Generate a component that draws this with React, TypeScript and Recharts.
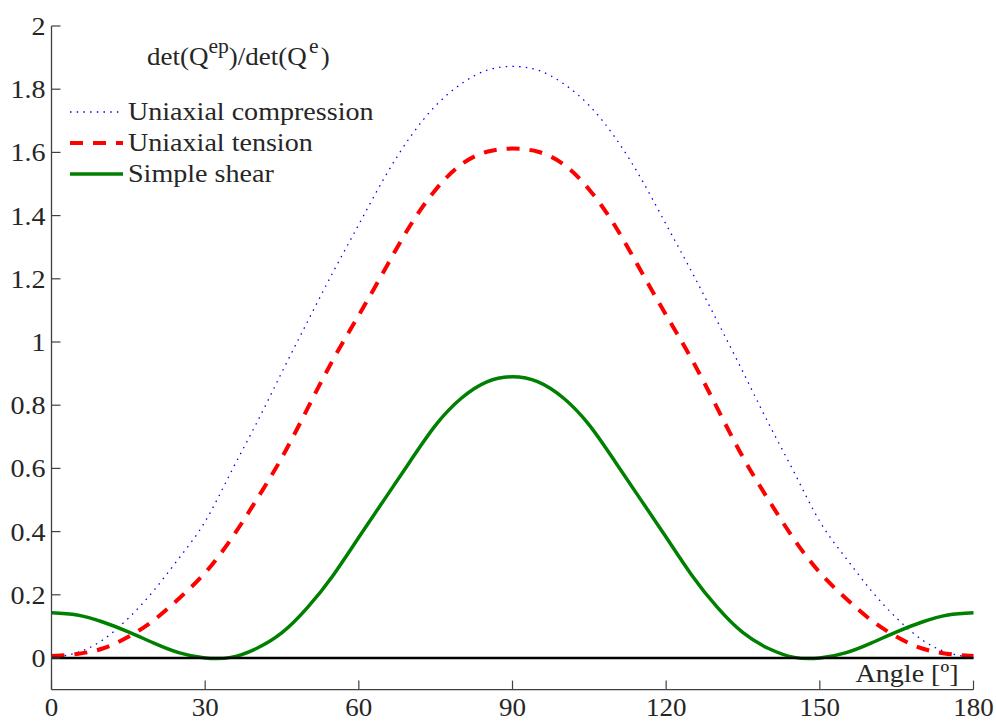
import React from 'react';
import { LineChart, Line, XAxis, YAxis, ReferenceLine, Legend } from 'recharts';

const angles = [
  0, 5, 10, 15, 20, 25, 30, 35, 40, 45, 50, 55, 60, 65, 70, 75, 80, 85, 90,
  95, 100, 105, 110, 115, 120, 125, 130, 135, 140, 145, 150, 155, 160, 165, 170, 175, 180,
];

const compression = [
  0.0, 0.017, 0.057, 0.126, 0.214, 0.318, 0.432, 0.587, 0.742, 0.905, 1.065, 1.222, 1.372, 1.52, 1.648, 1.748, 1.817, 1.86, 1.872,
  1.86, 1.817, 1.748, 1.648, 1.52, 1.372, 1.222, 1.065, 0.905, 0.742, 0.587, 0.432, 0.318, 0.214, 0.126, 0.057, 0.017, 0.0,
];

const tension = [
  0.006, 0.013, 0.03, 0.067, 0.12, 0.19, 0.27, 0.375, 0.5, 0.635, 0.79, 0.945, 1.085, 1.227, 1.368, 1.482, 1.562, 1.602, 1.612,
  1.602, 1.562, 1.482, 1.368, 1.227, 1.085, 0.945, 0.79, 0.635, 0.5, 0.375, 0.27, 0.19, 0.12, 0.067, 0.03, 0.013, 0.006,
];

const shear = [
  0.143, 0.136, 0.114, 0.083, 0.047, 0.016, 0.0, 0.002, 0.03, 0.08, 0.16, 0.262, 0.382, 0.502, 0.622, 0.737, 0.822, 0.874, 0.89,
  0.874, 0.822, 0.737, 0.622, 0.502, 0.382, 0.262, 0.16, 0.08, 0.03, 0.002, 0.0, 0.016, 0.047, 0.083, 0.114, 0.136, 0.143,
];

const xTicks = [0, 30, 60, 90, 120, 150, 180];
const yTicks = [0, 0.2, 0.4, 0.6, 0.8, 1, 1.2, 1.4, 1.6, 1.8, 2];

const data = angles.map((a, i) => ({
  angle: a,
  compression: compression[i],
  tension: tension[i],
  shear: shear[i],
}));

const FONT = '"Liberation Serif", "Times New Roman", serif';
const TEXT = '#262626';
const AXIS = '#404040';
const SX = 1.08;

const seriesList = [
  { key: 'compression', name: 'Uniaxial compression', color: '#0000ff', width: 1.3, dash: '1.5 5.2' },
  { key: 'tension', name: 'Uniaxial tension', color: '#ff0000', width: 4, dash: '13 10' },
  { key: 'shear', name: 'Simple shear', color: '#008000', width: 3.5, dash: undefined as string | undefined },
];

const XTick = (props: any) => {
  const { x, y, payload } = props;
  return (
    <g>
      <line x1={x} x2={x} y1={y} y2={y - 9} stroke={AXIS} strokeWidth={1.2} />
      <text
        transform={`translate(${x},${y + 26.5}) scale(${SX},1)`}
        textAnchor="middle"
        fontFamily={FONT}
        fontSize={25}
        fill={TEXT}
      >
        {payload.value}
      </text>
    </g>
  );
};

const YTick = (props: any) => {
  const { x, y, payload } = props;
  return (
    <g>
      <line x1={x} x2={x + 9} y1={y} y2={y} stroke={AXIS} strokeWidth={1.2} />
      <text
        transform={`translate(${x - 6},${y + 9}) scale(${SX},1)`}
        textAnchor="end"
        fontFamily={FONT}
        fontSize={26}
        fill={TEXT}
      >
        {String(payload.value)}
      </text>
    </g>
  );
};

const TitleLabel = (p: any) => {
  const vb = p.viewBox || { x: 0, y: 26, width: 51.5, height: 663 };
  const x = vb.x + vb.width + 95.5;
  const y = vb.y + 39;
  return (
    <text transform={`translate(${x},${y}) scale(${SX},1)`} fontFamily={FONT} fontSize={25} fill={TEXT}>
      det(Q
      <tspan dy={-12} fontSize={20}>ep</tspan>
      <tspan dy={12}>)/det(Q</tspan>
      <tspan dy={-12} fontSize={20} dx={2}>e</tspan>
      <tspan dy={12} dx={2}>)</tspan>
    </text>
  );
};

const AngleLabel = (p: any) => {
  const vb = p.viewBox || { x: 51.5, y: 689.6, width: 922, height: 32 };
  const x = vb.x + vb.width - 15;
  const y = vb.y - 8;
  return (
    <text transform={`translate(${x},${y}) scale(${SX},1)`} textAnchor="end" fontFamily={FONT} fontSize={26} fill={TEXT}>
      Angle [º]
    </text>
  );
};

const LegendBox = () => (
  <svg width={400} height={200} style={{ display: 'block' }}>
    {seriesList.map((s, i) => {
      const cy = 112 + i * 31;
      return (
        <g key={s.key}>
          <line x1={70} x2={123} y1={cy} y2={cy} stroke={s.color} strokeWidth={s.width} strokeDasharray={s.dash} />
          <text transform={`translate(128,${cy + 8}) scale(${SX},1)`} fontFamily={FONT} fontSize={26} fill={TEXT}>
            {s.name}
          </text>
        </g>
      );
    })}
  </svg>
);

export default function App() {
  return (
    <div style={{ position: 'absolute', left: 0, top: 0, width: 996, height: 722, background: '#fff' }}>
      <LineChart width={996} height={722} data={data} margin={{ top: 26, right: 22.5, bottom: 0, left: 0 }}>
        <XAxis
          dataKey="angle"
          type="number"
          domain={[0, 180]}
          ticks={xTicks}
          interval={0}
          height={32.4}
          tickSize={0}
          tickMargin={0}
          tickLine={false}
          axisLine={{ stroke: AXIS, strokeWidth: 1.3 }}
          tick={<XTick />}
          label={{ content: AngleLabel }}
        />
        <YAxis
          type="number"
          domain={[-0.1, 2]}
          ticks={yTicks}
          interval={0}
          width={51.5}
          tickSize={0}
          tickMargin={0}
          tickLine={false}
          axisLine={{ stroke: AXIS, strokeWidth: 1.3 }}
          tick={<YTick />}
          allowDataOverflow
          label={{ content: TitleLabel }}
        />
        <Legend
          layout="vertical"
          align="center"
          verticalAlign="middle"
          wrapperStyle={{ left: 0, top: 0, width: 400, height: 200 }}
          content={() => <LegendBox />}
        />
        {seriesList.map((s) => (
          <Line
            key={s.key}
            type="natural"
            dataKey={s.key}
            name={s.name}
            stroke={s.color}
            strokeWidth={s.width}
            strokeDasharray={s.dash}
            dot={false}
            activeDot={false}
            isAnimationActive={false}
          />
        ))}
        <ReferenceLine y={0} stroke="#000000" strokeWidth={2.5} />
      </LineChart>
    </div>
  );
}
